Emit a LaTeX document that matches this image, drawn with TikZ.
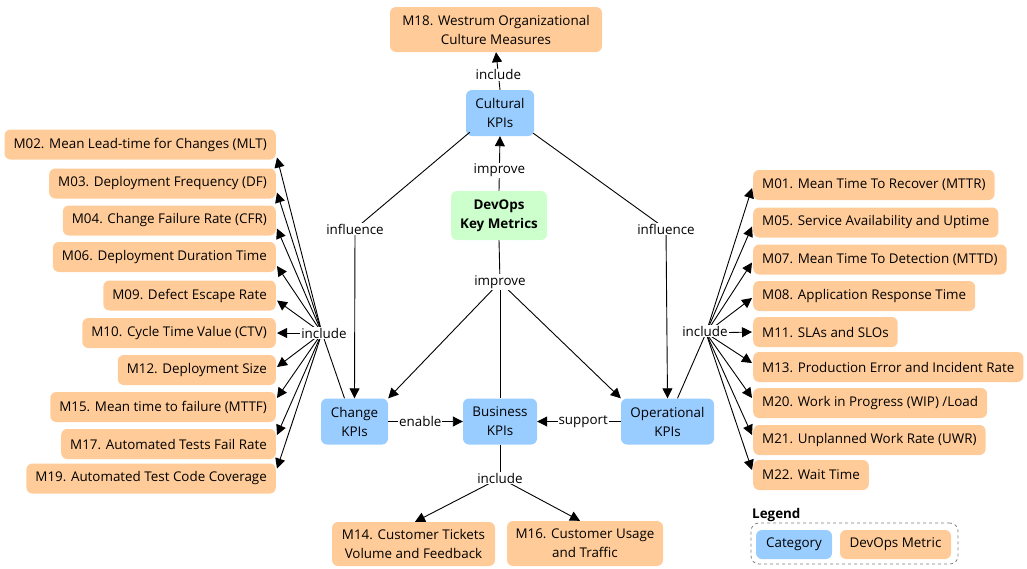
\documentclass[tikz,border=0pt]{standalone}
\usepackage{fontspec}
\setmainfont{Open Sans}
\usetikzlibrary{arrows.meta,calc}
\definecolor{metc}{HTML}{FFCC99}
\definecolor{catc}{HTML}{99CCFF}
\definecolor{keyc}{HTML}{CCFFCC}
\begin{document}
\begin{tikzpicture}[x=1pt,y=-1pt,
  font=\fontsize{13.4}{19}\selectfont,
  metric/.style={fill=metc, rounded corners=6pt, inner xsep=9pt, inner ysep=2pt, minimum height=30pt},
  metric2/.style={fill=metc, rounded corners=6pt, align=center, inner sep=2pt},
  catbox/.style={fill=catc, rounded corners=6pt, align=center, inner sep=2pt, minimum height=46pt},
  lbl/.style={fill=white, inner sep=1pt},
  arr/.style={-{Triangle[length=10pt,width=10pt]}, line width=0.9pt},
  ln/.style={line width=0.9pt}]
\useasboundingbox (0,0) rectangle (1027,568);

% central nodes
\node[metric2, minimum width=212pt, minimum height=45pt] (m18) at (496,29.5) {M18. Westrum Organizational\\Culture Measures};
\node[catbox, minimum width=68pt] (cultural) at (500,113) {Cultural\\KPIs};
\node[fill=keyc, rounded corners=6pt, align=center, inner sep=2pt, minimum width=96pt, minimum height=49pt, font=\fontsize{13.4}{19}\selectfont\bfseries] (devops) at (499,215.5) {DevOps\\Key Metrics};
\node[catbox, minimum width=67pt] (change) at (354.5,421.5) {Change\\KPIs};
\node[catbox, minimum width=74pt] (business) at (500,421.5) {Business\\KPIs};
\node[catbox, minimum width=93pt] (oper) at (667.5,421.5) {Operational\\KPIs};
\node[metric2, minimum width=163pt, minimum height=44pt] (m14) at (413.5,544) {M14. Customer Tickets\\Volume and Feedback};
\node[metric2, minimum width=156pt, minimum height=45pt] (m16) at (585,543.5) {M16. Customer Usage\\and Traffic};

% left metrics
\node[metric, anchor=east] (m02) at (276,144.5) {M02. Mean Lead-time for Changes (MLT)};
\node[metric, anchor=east] (m03) at (276,183.5) {M03. Deployment Frequency (DF)};
\node[metric, anchor=east] (m04) at (276,220.5) {M04. Change Failure Rate (CFR)};
\node[metric, anchor=east] (m06) at (276,257) {M06. Deployment Duration Time};
\node[metric, anchor=east] (m09) at (276,295.5) {M09. Defect Escape Rate};
\node[metric, anchor=east] (m10) at (276,333) {M10. Cycle Time Value (CTV)};
\node[metric, anchor=east] (m12) at (276,370) {M12. Deployment Size};
\node[metric, anchor=east] (m15) at (276,407) {M15. Mean time to failure (MTTF)};
\node[metric, anchor=east] (m17) at (276,444) {M17. Automated Tests Fail Rate};
\node[metric, anchor=east] (m19) at (276,478.5) {M19. Automated Test Code Coverage};

% right metrics
\node[metric, anchor=west] (m01) at (753,185) {M01. Mean Time To Recover (MTTR)};
\node[metric, anchor=west] (m05) at (753,222.5) {M05. Service Availability and Uptime};
\node[metric, anchor=west] (m07) at (753,259.5) {M07. Mean Time To Detection (MTTD)};
\node[metric, anchor=west] (m08) at (753,296) {M08. Application Response Time};
\node[metric, anchor=west] (m11) at (753,332) {M11. SLAs and SLOs};
\node[metric, anchor=west] (m13) at (753,367) {M13. Production Error and Incident Rate};
\node[metric, anchor=west] (m20) at (753,403) {M20. Work in Progress (WIP) /Load};
\node[metric, anchor=west] (m21) at (753,440) {M21. Unplanned Work Rate (UWR)};
\node[metric, anchor=west] (m22) at (753,475) {M22. Wait Time};

% hubs
\coordinate (hubL) at (322,333);
\coordinate (hubR) at (706,333);
\coordinate (inflL) at (355,229);
\coordinate (inflR) at (666,229);
\coordinate (impr) at (500,282);
\coordinate (incB) at (500,478);

% top edges
\draw[arr] (devops.north) -- (cultural.south) node[lbl, pos=0.38] (l1) {improve};
\draw[arr] (cultural.north) -- (m18.south) node[lbl, pos=0.4] (l2) {include};

% influence
\draw[ln] ($(cultural.south west)+(4,-4)$) -- (inflL);
\draw[arr] (inflL) -- (change.north);
\node[lbl] (l3) at (inflL) {influence};
\draw[ln] ($(cultural.south east)+(-1,-3)$) -- (inflR);
\draw[arr] (inflR) -- (oper.north);
\node[lbl] (l4) at (inflR) {influence};

% improve lower
\draw[ln] (devops.south) -- (impr);
\draw[arr] (impr) -- (change.north east);
\draw[ln] (impr) -- (business.north);
\draw[arr] (impr) -- (oper.north west);
\node[lbl] (l5) at (impr) {improve};

% enable / support
\draw[arr] (change.east) -- (business.west) node[lbl, pos=0.43] (l6) {enable};
\draw[arr] (oper.west) -- (business.east) node[lbl, pos=0.45] (l7) {support};

% business include
\draw[ln] (business.south) -- (incB);
\draw[arr] (incB) -- ($(m14.north)+(1.5,0)$);
\draw[arr] (incB) -- ($(m16.north)+(-5,0)$);
\node[lbl] (l8) at (incB) {include};

% left include
\draw[ln] ($(change.north)+(-10,0)$) -- (hubL);
\draw[arr] (hubL) -- ($(m02.east)+(1,13)$);
\draw[arr] (hubL) -- ($(m03.east)+(1,9)$);
\draw[arr] (hubL) -- ($(m04.east)+(1,8)$);
\draw[arr] (hubL) -- ($(m06.east)+(1,9)$);
\draw[arr] (hubL) -- ($(m09.east)+(1,5)$);
\draw[arr] (hubL) -- ($(m10.east)+(1,0)$);
\draw[arr] (hubL) -- ($(m12.east)+(1,-3)$);
\draw[arr] (hubL) -- ($(m15.east)+(1,-9)$);
\draw[arr] (hubL) -- ($(m17.east)+(1,-9)$);
\draw[arr] (hubL) -- ($(m19.east)+(1,-10)$);
\node[lbl] (l9) at (324,333) {include};

% right include
\draw[ln] ($(oper.north)+(10,0)$) -- (hubR);
\draw[arr] (hubR) -- ($(m01.west)+(-1,3)$);
\draw[arr] (hubR) -- ($(m05.west)+(-1,4)$);
\draw[arr] (hubR) -- ($(m07.west)+(-1,3)$);
\draw[arr] (hubR) -- ($(m08.west)+(-1,2)$);
\draw[arr] (hubR) -- ($(m11.west)+(-1,0)$);
\draw[arr] (hubR) -- ($(m13.west)+(-1,-4)$);
\draw[arr] (hubR) -- ($(m20.west)+(-1,-5)$);
\draw[arr] (hubR) -- ($(m21.west)+(-1,-5)$);
\draw[arr] (hubR) -- ($(m22.west)+(-1,-5)$);
\node[lbl] (l10) at (705,331) {include};

% legend
\node[draw=gray, dashed, rounded corners=8pt, line width=0.8pt, minimum width=207pt, minimum height=41pt] (legbox) at (854.5,543.5) {};
\node[anchor=south west, inner sep=0pt, font=\fontsize{13.4}{19}\selectfont\bfseries] (legt) at (752,522) {Legend};
\node[fill=catc, rounded corners=6pt, minimum width=76pt, minimum height=29pt, inner sep=2pt] (legcat) at (794,544.5) {Category};
\node[fill=metc, rounded corners=6pt, minimum width=111pt, minimum height=29pt, inner sep=2pt] (legmet) at (895.5,544.5) {DevOps Metric};
\end{tikzpicture}
\end{document}
